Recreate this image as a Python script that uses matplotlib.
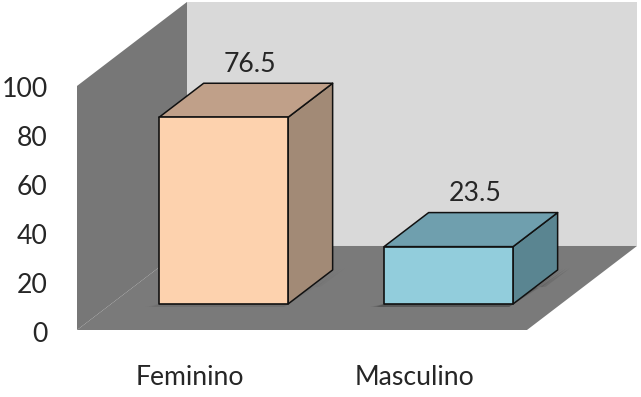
import matplotlib
matplotlib.use("Agg")
import matplotlib.pyplot as plt
from matplotlib.patches import Polygon
from matplotlib.transforms import ScaledTranslation

# Data
categories = ["Feminino", "Masculino"]
values = [76.5, 23.5]
yticks = [0, 20, 40, 60, 80, 100]

# Colours per bar: front, top, side
front_colors = ["#fdd2ae", "#92cddc"]
top_colors = ["#c0a089", "#6f9fae"]
side_colors = ["#a28a76", "#5a8591"]
shadow_strength = [0.25, 1.0]

# Fake 3D projection, in data units
DX = 110 / 225
DY = 84 / 2.44
BAR_WIDTH = 129 / 225
BAR_D0 = 0.31
BAR_D1 = 0.715
YMAX = 100
FONT_SIZE = 19.2
TEXT_COLOR = "#262626"


def proj(x, v, d):
    return (x + d * DX, v + d * DY)


def face(ax, pts, color, edge="none", lw=0.0, zorder=2, alpha=1.0):
    ax.add_patch(Polygon([proj(*p) for p in pts], closed=True, facecolor=color,
                         edgecolor=edge, linewidth=lw, zorder=zorder,
                         alpha=alpha, joinstyle="round", clip_on=False))


plt.rcParams["font.family"] = ["Lato", "DejaVu Sans"]

fig = plt.figure(figsize=(6.41, 3.97), dpi=100)
ax = fig.add_axes([77 / 641, 1 - 330 / 397, 560 / 641, 327 / 397])
ax.set_xlim(-0.5, 1.989)
ax.set_ylim(0, 134)
ax.patch.set_visible(False)
for s in ax.spines.values():
    s.set_visible(False)

x0, x1 = -0.5, 1.5

# Walls and floor
face(ax, [(x0, 0, 1), (x1, 0, 1), (x1, YMAX, 1), (x0, YMAX, 1)], "#d9d9d9", zorder=1)
face(ax, [(x0, 0, 0), (x0, 0, 1), (x0, YMAX, 1), (x0, YMAX, 0)], "#777777", zorder=1)
face(ax, [(x0, 0, 0), (x1, 0, 0), (x1, 0, 1), (x0, 0, 1)], "#7a7a7a", zorder=1)

# Bars
for i, v in enumerate(values):
    l = i - BAR_WIDTH / 2
    r = i + BAR_WIDTH / 2
    d0, d1 = BAR_D0, BAR_D1

    # soft shadow on the floor
    for grow, a in [(0.045, 0.16), (0.03, 0.2), (0.015, 0.25)]:
        face(ax, [(l - grow, 0, d0 - 0.035), (r, 0, d0 - 0.035),
                  (r + grow, 0, d1 + 0.02), (r + grow, 0, d1 - 0.2), (l, 0, d0)],
             "#333333", zorder=2, alpha=a * shadow_strength[i])

    face(ax, [(r, 0, d0), (r, 0, d1), (r, v, d1), (r, v, d0)], side_colors[i],
         edge="#111111", lw=1.1, zorder=3)
    face(ax, [(l, v, d0), (r, v, d0), (r, v, d1), (l, v, d1)], top_colors[i],
         edge="#111111", lw=1.1, zorder=3)
    face(ax, [(l, 0, d0), (r, 0, d0), (r, v, d0), (l, v, d0)], front_colors[i],
         edge="#111111", lw=1.2, zorder=4)

    # value label above the back edge of the bar top
    tx, ty = proj(i, v, d1)
    ax.annotate(f"{v:g}", (tx, ty), xytext=(-13, 4.5), textcoords="offset points",
                ha="center", va="bottom", fontsize=FONT_SIZE, color=TEXT_COLOR, zorder=5,
                annotation_clip=False)

ax.set_xticks(range(len(categories)))
ax.set_xticklabels(categories)
ax.set_yticks(yticks)
ax.tick_params(axis="x", length=0, pad=25.5, labelsize=FONT_SIZE, labelcolor=TEXT_COLOR)
ax.tick_params(axis="y", length=0, pad=21, labelsize=FONT_SIZE, labelcolor=TEXT_COLOR)

# nudge the value axis labels down a little
nudge = ScaledTranslation(0, -1.5 / 100, fig.dpi_scale_trans)
for lab in ax.get_yticklabels():
    lab.set_transform(lab.get_transform() + nudge)

fig.savefig("out.png", dpi=100, facecolor="white")
